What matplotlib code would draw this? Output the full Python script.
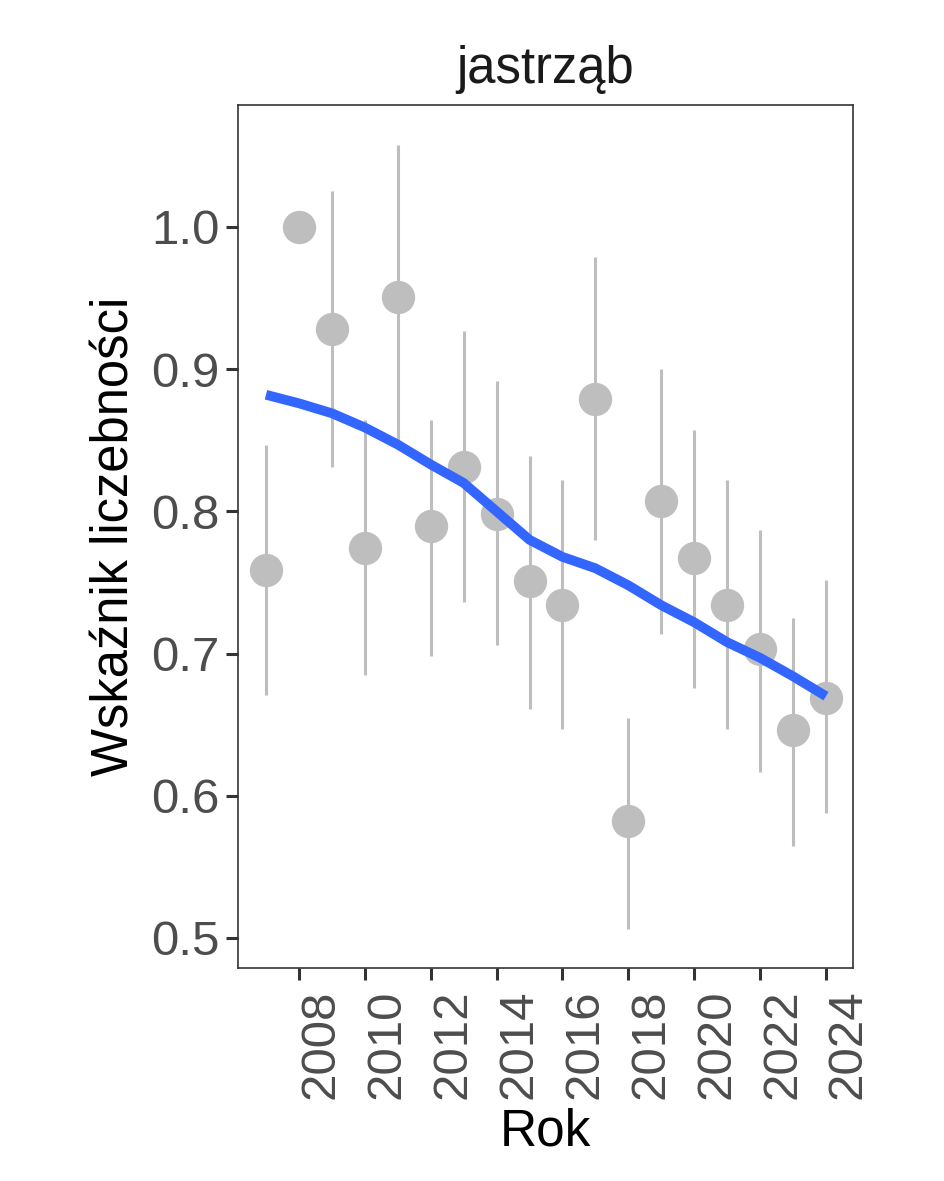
import numpy as np
import matplotlib.pyplot as plt

plt.rcParams['font.family'] = ['Liberation Sans', 'DejaVu Sans']

# index of abundance per year, with lower / upper bounds (2008 = reference year, no bar)
years = np.arange(2007, 2025)
index = [0.759, 1.000, 0.928, 0.774, 0.951, 0.790, 0.831, 0.798, 0.751,
         0.734, 0.879, 0.582, 0.807, 0.767, 0.734, 0.703, 0.646, 0.669]
lower = [0.671, np.nan, 0.831, 0.685, 0.846, 0.698, 0.736, 0.706, 0.661,
         0.647, 0.780, 0.506, 0.714, 0.676, 0.647, 0.617, 0.565, 0.588]
upper = [0.847, np.nan, 1.025, 0.864, 1.058, 0.864, 0.927, 0.892, 0.839,
         0.822, 0.979, 0.655, 0.900, 0.857, 0.822, 0.787, 0.725, 0.752]
# smoothed trend at each year
trend = [0.882, 0.876, 0.869, 0.859, 0.847, 0.833, 0.820, 0.800, 0.780,
         0.768, 0.760, 0.748, 0.734, 0.722, 0.708, 0.697, 0.684, 0.670]

fig = plt.figure(figsize=(9.44, 11.81), dpi=100)
ax = fig.add_axes([0.2521, 0.1804, 0.6515, 0.7307])

ax.vlines(years, lower, upper, color='#BEBEBE', linewidth=2.2, zorder=1)
ax.plot(years, index, 'o', color='#BEBEBE', markersize=24, markeredgewidth=0, zorder=2)
ax.plot(years, trend, color='#3366FF', linewidth=7, solid_capstyle='butt',
        solid_joinstyle='round', zorder=3)

ax.set_xlim(2006.15, 2024.82)
ax.set_ylim(0.4789, 1.0858)
ax.set_xticks(np.arange(2008, 2025, 2))
ax.set_yticks([0.5, 0.6, 0.7, 0.8, 0.9, 1.0])
ax.set_yticklabels(['0.5', '0.6', '0.7', '0.8', '0.9', '1.0'])
ax.tick_params(axis='both', length=8.5, width=2.2, color='#333333',
               labelsize=35.5, labelcolor='#4D4D4D', pad=5)
ax.tick_params(axis='x', labelrotation=90, pad=7)
plt.setp(ax.get_xticklabels(), ha='left')
for s in ax.spines.values():
    s.set_color('#333333')
    s.set_linewidth(1.2)

ax.set_title('jastrząb', fontsize=36.5, color='#1A1A1A', pad=16)
ax.set_xlabel('Rok', fontsize=37, color='black', labelpad=6)
ax.set_ylabel('Wskaźnik liczebności', fontsize=36.5, color='black', labelpad=8)

fig.savefig('out.png', dpi=100)
